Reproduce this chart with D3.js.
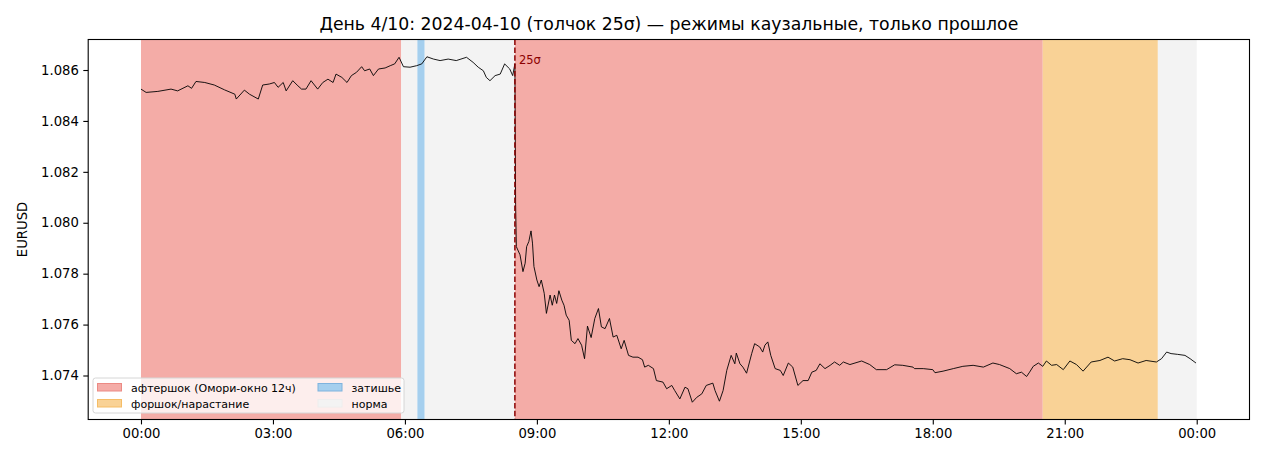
<!DOCTYPE html>
<html>
<head>
<meta charset="utf-8">
<script src="https://cdn.jsdelivr.net/npm/d3@7"></script>
<style>
    body { margin: 0; background: #ffffff; }
    svg { font-family: "DejaVu Sans", sans-serif; }
</style>
</head>
<body>
<svg width="1265" height="460"></svg>
<script>
// minutes since 00:00 of 2024-04-10 and EURUSD mid price
const minutes = [
    0, 7, 23, 41, 50, 64, 69, 75, 87, 100, 114, 128, 130, 141, 148, 160, 166, 175, 182, 187,
    194, 198, 207, 214, 219, 225, 232, 241, 248, 255, 262, 266, 274, 281, 287, 294, 301, 305, 312, 317,
    324, 333, 340, 346, 352, 358, 367, 376, 383, 390, 399, 408, 419, 430, 444, 453, 460, 467, 471, 476,
    483, 490, 496, 503, 507, 510, 511, 512, 517, 521, 524, 526, 529, 532, 534, 536, 540, 543, 546, 550,
    553, 558, 561, 564, 567, 570, 574, 577, 580, 584, 587, 592, 596, 601, 605, 609, 614, 619, 624, 628,
    633, 639, 644, 649, 655, 659, 665, 671, 678, 684, 687, 692, 699, 703, 712, 717, 724, 728, 735, 742,
    746, 752, 758, 765, 771, 780, 783, 789, 794, 799, 805, 810, 812, 817, 821, 826, 833, 837, 844, 848,
    851, 855, 859, 865, 872, 876, 883, 889, 896, 903, 910, 915, 921, 926, 933, 940, 946, 953, 958, 967,
    983, 994, 1003, 1017, 1028, 1039, 1053, 1055, 1067, 1080, 1083, 1094, 1108, 1121, 1135, 1149, 1162, 1171, 1185, 1194,
    1201, 1208, 1212, 1217, 1224, 1230, 1235, 1242, 1249, 1258, 1267, 1276, 1285, 1296, 1308, 1319, 1328, 1339, 1349, 1360,
    1371, 1385, 1392, 1399, 1405, 1414, 1424, 1431, 1439
];
const prices = [
    1.08525, 1.08512, 1.08516, 1.08525, 1.08518, 1.08538, 1.08528, 1.08555, 1.08551, 1.08541, 1.08522, 1.08505, 1.08486, 1.08521, 1.08505, 1.08486, 1.08541, 1.08545, 1.08551, 1.08532,
    1.08551, 1.08518, 1.08558, 1.08538, 1.08525, 1.08525, 1.08558, 1.08525, 1.08551, 1.08564, 1.08551, 1.08584, 1.08571, 1.08551, 1.08578, 1.08591, 1.08613, 1.08597, 1.08604, 1.08578,
    1.08604, 1.08608, 1.08617, 1.08624, 1.08650, 1.08613, 1.08611, 1.08617, 1.08624, 1.08652, 1.08643, 1.08637, 1.08643, 1.08637, 1.08650, 1.08630, 1.08611, 1.08597, 1.08571, 1.08558,
    1.08578, 1.08584, 1.08624, 1.08604, 1.08578, 1.08624, 1.08071, 1.07906, 1.07874, 1.07808, 1.07841, 1.07906, 1.07926, 1.07968, 1.07920, 1.07828, 1.07775, 1.07749, 1.07775, 1.07723,
    1.07644, 1.07716, 1.07676, 1.07716, 1.07683, 1.07733, 1.07696, 1.07676, 1.07637, 1.07617, 1.07538, 1.07525, 1.07545, 1.07519, 1.07466, 1.07594, 1.07549, 1.07624, 1.07663, 1.07591,
    1.07584, 1.07624, 1.07551, 1.07558, 1.07505, 1.07538, 1.07479, 1.07472, 1.07472, 1.07462, 1.07433, 1.07440, 1.07427, 1.07380, 1.07374, 1.07348, 1.07361, 1.07341, 1.07308, 1.07354,
    1.07348, 1.07295, 1.07314, 1.07328, 1.07361, 1.07370, 1.07341, 1.07299, 1.07341, 1.07420, 1.07479, 1.07446, 1.07488, 1.07446, 1.07433, 1.07409, 1.07486, 1.07525, 1.07512, 1.07492,
    1.07519, 1.07532, 1.07479, 1.07427, 1.07420, 1.07400, 1.07449, 1.07433, 1.07361, 1.07380, 1.07380, 1.07413, 1.07420, 1.07446, 1.07427, 1.07440, 1.07453, 1.07440, 1.07453, 1.07443,
    1.07457, 1.07443, 1.07423, 1.07423, 1.07442, 1.07440, 1.07433, 1.07427, 1.07427, 1.07423, 1.07411, 1.07417, 1.07427, 1.07436, 1.07440, 1.07433, 1.07449, 1.07443, 1.07427, 1.07407,
    1.07413, 1.07396, 1.07413, 1.07436, 1.07449, 1.07436, 1.07457, 1.07440, 1.07443, 1.07423, 1.07457, 1.07443, 1.07417, 1.07453, 1.07459, 1.07472, 1.07457, 1.07466, 1.07462, 1.07449,
    1.07459, 1.07453, 1.07466, 1.07492, 1.07486, 1.07483, 1.07479, 1.07466, 1.07449
];

// causal regimes (minute spans)
const regimeStart = [0, 355, 377, 387, 510, 1230, 1387];
const regimeEnd = [355, 377, 387, 510, 1230, 1387, 1440];
const regimeKind = ['after', 'norm', 'calm', 'norm', 'after', 'fore', 'norm'];

const shockMinute = 510;
const shockLabel = '25σ';

const tickMinutes = [0, 180, 360, 540, 720, 900, 1080, 1260, 1440];
const tickLabels = ['00:00', '03:00', '06:00', '09:00', '12:00', '15:00', '18:00', '21:00', '00:00'];

const legendKeys = ['after', 'fore', 'calm', 'norm'];
const legendNames = ['афтершок (Омори-окно 12ч)', 'форшок/нарастание', 'затишье', 'норма'];

const fillColor = {after: '#f4aca7', fore: '#f9d296', calm: '#a5cfee', norm: '#f3f3f3'};
const edgeColor = {after: '#ec8a84', fore: '#f5bd66', calm: '#7fb3de', norm: '#eeeeee'};

const svg = d3.select('svg'),
    margin = {top: 39.5, right: 15.5, bottom: 40.5, left: 88.2},
    width = +svg.attr('width'),
    height = +svg.attr('height');

const x = d3.scaleLinear()
    .domain([-72, 1512])
    .range([margin.left, width - margin.right]);

const pMin = d3.min(prices), pMax = d3.max(prices), pad = (pMax - pMin) * 0.05;
const y = d3.scaleLinear()
    .domain([pMin - pad, pMax + pad])
    .range([height - margin.bottom, margin.top]);

svg.append('defs').append('clipPath').attr('id', 'plot')
    .append('rect')
    .attr('x', margin.left).attr('y', margin.top)
    .attr('width', width - margin.right - margin.left)
    .attr('height', height - margin.bottom - margin.top);

const plot = svg.append('g').attr('clip-path', 'url(#plot)');

plot.selectAll('rect.regime')
    .data(regimeKind)
    .enter().append('rect')
    .attr('class', 'regime')
    .attr('x', function (d, i) { return x(regimeStart[i]); })
    .attr('width', function (d, i) { return x(regimeEnd[i]) - x(regimeStart[i]); })
    .attr('y', margin.top)
    .attr('height', height - margin.bottom - margin.top)
    .attr('fill', function (d) { return fillColor[d]; });

const line = d3.line()
    .x(function (d) { return x(d); })
    .y(function (d, i) { return y(prices[i]); });

plot.append('path')
    .datum(minutes)
    .attr('d', line)
    .attr('fill', 'none')
    .attr('stroke', '#000000')
    .attr('stroke-width', 0.9)
    .attr('stroke-linejoin', 'round');

plot.append('line')
    .attr('x1', x(shockMinute)).attr('x2', x(shockMinute))
    .attr('y1', margin.top).attr('y2', height - margin.bottom)
    .attr('stroke', '#8b0000')
    .attr('stroke-width', 1.5)
    .attr('stroke-dasharray', '5.5,2.4');

svg.append('text')
    .attr('x', x(shockMinute) + 4)
    .attr('y', y(1.0862) - 1)
    .attr('font-size', 11.5)
    .attr('fill', '#8b0000')
    .text(shockLabel);

// axes
const xAxis = svg.append('g')
    .attr('transform', 'translate(0,' + (height - margin.bottom) + ')')
    .call(d3.axisBottom(x).tickValues(tickMinutes)
        .tickFormat(function (d, i) { return tickLabels[i]; })
        .tickSize(4.9).tickPadding(4.5));

const yAxis = svg.append('g')
    .attr('transform', 'translate(' + margin.left + ',0)')
    .call(d3.axisLeft(y).tickValues(d3.range(1.074, 1.0861, 0.002))
        .tickFormat(d3.format('.3f'))
        .tickSize(4.9).tickPadding(4.5));

[xAxis, yAxis].forEach(function (a) {
    a.select('.domain').remove();
    a.selectAll('text').attr('font-size', 13.2).attr('font-family', '"DejaVu Sans", sans-serif').attr('fill', '#000');
    a.selectAll('line').attr('stroke', '#000').attr('stroke-width', 1.1);
});

svg.append('rect')
    .attr('x', margin.left).attr('y', margin.top)
    .attr('width', width - margin.right - margin.left)
    .attr('height', height - margin.bottom - margin.top)
    .attr('fill', 'none')
    .attr('stroke', '#000')
    .attr('stroke-width', 1.1);

svg.append('text')
    .attr('x', (margin.left + width - margin.right) / 2)
    .attr('y', 30)
    .attr('text-anchor', 'middle')
    .attr('font-size', 17.3)
    .text('День 4/10: 2024-04-10 (толчок 25σ) — режимы каузальные, только прошлое');

svg.append('text')
    .attr('transform', 'translate(27,' + ((margin.top + height - margin.bottom) / 2) + ') rotate(-90)')
    .attr('text-anchor', 'middle')
    .attr('font-size', 13.2)
    .text('EURUSD');

// legend
const legend = svg.append('g').attr('transform', 'translate(93,378)');
legend.append('rect')
    .attr('width', 311).attr('height', 35).attr('rx', 2.5)
    .attr('fill', 'rgba(255,255,255,0.8)')
    .attr('stroke', '#d6d6d6').attr('stroke-width', 1);

const item = legend.selectAll('g.item')
    .data(legendKeys)
    .enter().append('g')
    .attr('class', 'item')
    .attr('transform', function (d, i) {
        return 'translate(' + (i < 2 ? 4.5 : 225) + ',' + (5.5 + (i % 2) * 16) + ')';
    });

item.append('rect')
    .attr('width', 24).attr('height', 7.5)
    .attr('fill', function (d) { return fillColor[d]; })
    .attr('stroke', function (d) { return edgeColor[d]; })
    .attr('stroke-width', 1);

item.append('text')
    .attr('x', 33.5).attr('y', 8.5)
    .attr('font-size', 11)
    .text(function (d, i) { return legendNames[i]; });
</script>
</body>
</html>
